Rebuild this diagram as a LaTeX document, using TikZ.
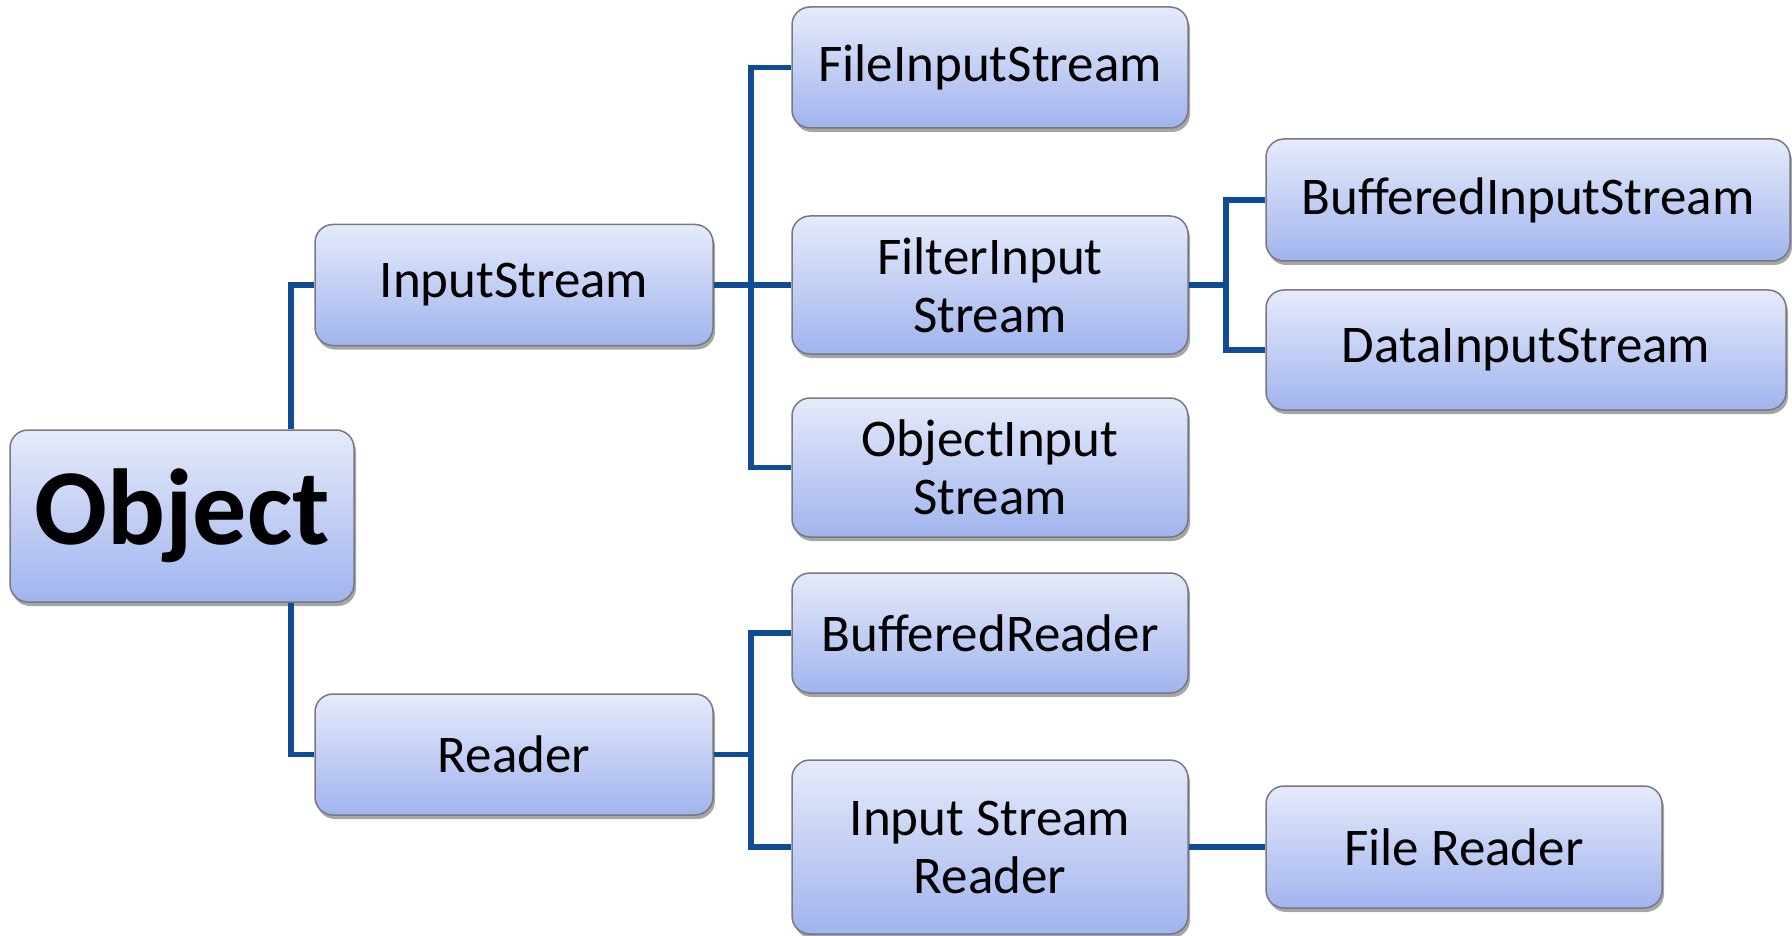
\documentclass[tikz,border=0pt]{standalone}
\usepackage{fontspec}
\setmainfont{Carlito}
\usetikzlibrary{shadows}
\definecolor{linec}{RGB}{16,76,150}
\definecolor{boxtop}{RGB}{230,234,250}
\definecolor{boxbot}{RGB}{160,180,238}
\definecolor{boxedge}{RGB}{120,120,128}
\tikzset{
  cls/.style={draw=boxedge, line width=1.5pt, rounded corners=18pt,
    top color=boxtop, bottom color=boxbot,
    drop shadow={shadow xshift=2pt, shadow yshift=-4pt, fill=black, opacity=0.35},
    align=center, inner sep=0pt, font=\fontsize{53}{58}\selectfont},
  link/.style={draw=linec, line width=5.5pt}
}
\begin{document}
\begin{tikzpicture}[x=1pt, y=-1pt]
\useasboundingbox (0,0) rectangle (1792,936);
\coordinate (t1) at (291,0);
\coordinate (t2) at (751,0);
\coordinate (t3) at (1226,0);
\node[cls, minimum width=344pt, minimum height=172pt, font=\fontsize{108}{112}\selectfont\bfseries] (obj) at (182,516) {Object};
\node[cls, minimum width=398pt, minimum height=121pt] (is) at (514,285) {InputStream};
\node[cls, minimum width=398pt, minimum height=121pt] (rd) at (514,754.5) {Reader};
\node[cls, minimum width=396pt, minimum height=121pt] (fis) at (990,67.5) {FileInputStream};
\node[cls, minimum width=396pt, minimum height=138pt] (fil) at (990,285) {FilterInput\\Stream};
\node[cls, minimum width=396pt, minimum height=139pt] (ois) at (990,467.5) {ObjectInput\\Stream};
\node[cls, minimum width=396pt, minimum height=120pt] (br) at (990,633) {BufferedReader};
\node[cls, minimum width=396pt, minimum height=174pt] (isr) at (990,847) {Input Stream\\Reader};
\node[cls, minimum width=524pt, minimum height=122pt] (bis) at (1528,200) {BufferedInputStream};
\node[cls, minimum width=520pt, minimum height=120pt] (dis) at (1526,350) {DataInputStream};
\node[cls, minimum width=396pt, minimum height=122pt] (fr) at (1464,847) {File Reader};
\draw[link] (obj.north -| t1) |- (is.west);
\draw[link] (obj.south -| t1) |- (rd.west);
\draw[link] (is.east) -- (fil.west);
\draw[link] (fis.west) -| (t2 |- ois.west) -- (ois.west);
\draw[link] (fil.east) -- (fil.east -| t3);
\draw[link] (bis.west) -| (t3 |- dis.west) -- (dis.west);
\draw[link] (rd.east) -- (rd.east -| t2);
\draw[link] (br.west) -| (t2 |- isr.west) -- (isr.west);
\draw[link] (isr.east) -- (fr.west);
\end{tikzpicture}
\end{document}
